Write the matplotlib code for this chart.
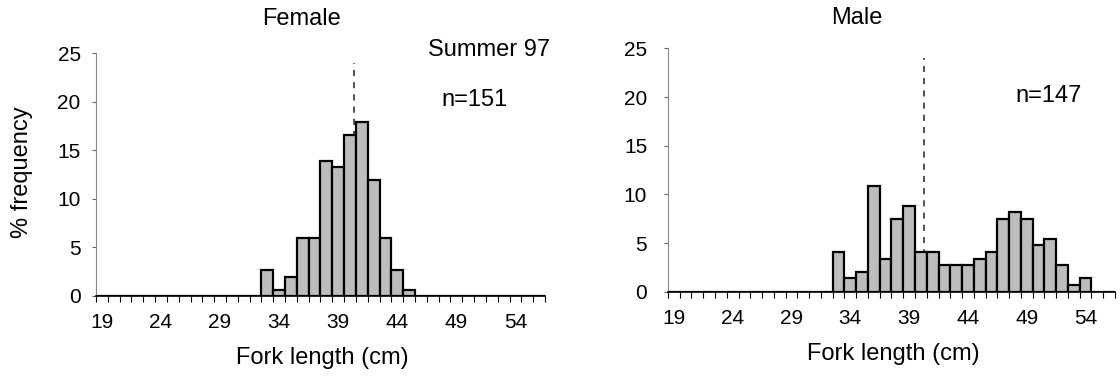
import numpy as np
import matplotlib
matplotlib.use("Agg")
import matplotlib.pyplot as plt

plt.rcParams['font.family'] = ['Liberation Sans', 'DejaVu Sans']

# fork length classes (cm), one bar per class
lengths = list(range(19, 57))
tick_labels = [19, 24, 29, 34, 39, 44, 49, 54]

# % frequency (Summer 97)
female_pct = {33: 2.65, 34: 0.66, 35: 1.99, 36: 5.96, 37: 5.96, 38: 13.9,
              39: 13.25, 40: 16.56, 41: 17.88, 42: 11.92, 43: 5.96,
              44: 2.65, 45: 0.66}
male_pct = {33: 4.08, 34: 1.36, 35: 2.04, 36: 10.88, 37: 3.40, 38: 7.48,
            39: 8.84, 40: 4.08, 41: 4.08, 42: 2.72, 43: 2.72, 44: 2.72,
            45: 3.40, 46: 4.08, 47: 7.48, 48: 8.16, 49: 7.48, 50: 4.76,
            51: 5.44, 52: 2.72, 53: 0.68, 54: 1.36}
female_n = 151
male_n = 147
female_mean = 40.35
male_mean = 40.25

female_vals = [female_pct.get(v, 0) for v in lengths]
male_vals = [male_pct.get(v, 0) for v in lengths]


def panel(ax, vals, mean, title, ntext, title_x, title_y, n_x):
    ax.bar(lengths, vals, width=1.0, color='#bdbdbd', edgecolor='black',
           linewidth=1.6, zorder=3)
    ax.plot([mean, mean], [0, 24], color='#222222', lw=1.1,
            dashes=(4, 4), zorder=2)
    ax.set_xlim(18.5, 56.5)
    ax.set_ylim(0, 25)
    ax.set_yticks([0, 5, 10, 15, 20, 25])
    ax.set_xticks(tick_labels)
    ax.set_xticks(np.arange(18.5, 57, 1), minor=True)
    ax.tick_params(axis='x', which='major', length=0, pad=12.5, labelsize=15)
    ax.tick_params(axis='x', which='minor', length=4, width=0.8,
                   direction='out', color='black')
    ax.tick_params(axis='y', length=3, width=0.8, color='#666666',
                   labelsize=15)
    for s in ['top', 'right']:
        ax.spines[s].set_visible(False)
    ax.spines['bottom'].set_linewidth(1.2)
    ax.spines['left'].set_color('#888888')
    ax.spines['left'].set_linewidth(0.8)
    ax.text(title_x, title_y, title, transform=ax.transAxes, ha='center',
            va='center', fontsize=17)
    ax.text(n_x, 0.805, ntext, transform=ax.transAxes, ha='center',
            va='center', fontsize=17)
    ax.text(0.505, -0.255, 'Fork length (cm)', transform=ax.transAxes,
            ha='center', va='center', fontsize=17)


fig = plt.figure(figsize=(11.2, 3.85), dpi=100)
ax1 = fig.add_axes([0.0857, 0.2312, 0.4009, 0.6311])
ax2 = fig.add_axes([0.5964, 0.2423, 0.3991, 0.632])

panel(ax1, female_vals, female_mean, 'Female', 'n=%d' % female_n,
      0.457, 1.14, 0.844)
panel(ax2, male_vals, male_mean, 'Male', 'n=%d' % male_n,
      0.423, 1.125, 0.852)

ax1.tick_params(axis='y', pad=8)
ax2.tick_params(axis='y', pad=12)
ax1.text(1.012, 1.012, 'Summer 97', transform=ax1.transAxes, ha='right',
         va='center', fontsize=17)
ax1.text(-0.165, 0.51, '% frequency', transform=ax1.transAxes, ha='center',
         va='center', rotation=90, fontsize=17)

fig.savefig('out.png', dpi=100)
